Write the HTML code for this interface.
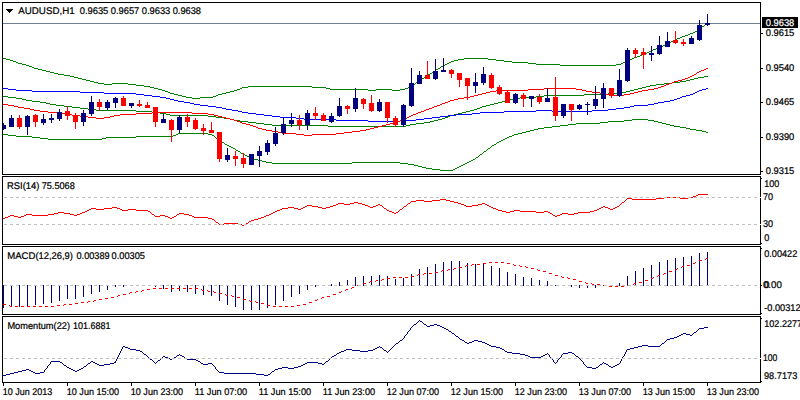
<!DOCTYPE html>
<html><head><meta charset="utf-8"><title>AUDUSD,H1</title>
<style>html,body{margin:0;padding:0;background:#fff;}body{width:800px;height:400px;overflow:hidden;}svg{display:block;}text{font-family:"Liberation Sans",sans-serif;font-size:9.7px;text-rendering:geometricPrecision;fill:#000;stroke:#000;stroke-width:0.22px;}</style></head><body>
<svg width="800" height="400" viewBox="0 0 800 400">
<rect x="0" y="0" width="800" height="400" fill="#ffffff"/>
<g fill="none" stroke-width="1" shape-rendering="crispEdges">
<line x1="3" y1="23.5" x2="760" y2="23.5" stroke="#708090"/>
<path d="M707 22h1v1h-1zM706 23h1v1h-1zM705 24h1v1h-1zM704 25h1v1h-1zM702 26h2v1h-2zM701 27h1v1h-1zM700 28h1v1h-1zM699 29h1v1h-1zM697 30h2v1h-2zM695 31h2v1h-2zM693 32h2v1h-2zM690 33h3v1h-3zM688 34h2v1h-2zM685 35h3v1h-3zM682 36h3v1h-3zM680 37h2v1h-2zM677 38h3v1h-3zM675 39h2v1h-2zM673 40h2v1h-2zM671 41h2v1h-2zM669 42h2v1h-2zM667 43h2v1h-2zM665 44h2v1h-2zM663 45h2v1h-2zM661 46h2v1h-2zM658 47h3v1h-3zM656 48h2v1h-2zM653 49h3v1h-3zM651 50h2v1h-2zM649 51h2v1h-2zM647 52h2v1h-2zM645 53h2v1h-2zM642 54h3v1h-3zM640 55h2v1h-2zM637 56h3v1h-3zM634 57h3v1h-3zM3 58h3v1h-3zM464 58h24v1h-24zM632 58h2v1h-2zM6 59h4v1h-4zM458 59h6v1h-6zM488 59h8v1h-8zM629 59h3v1h-3zM10 60h3v1h-3zM454 60h4v1h-4zM496 60h8v1h-8zM627 60h2v1h-2zM13 61h3v1h-3zM451 61h3v1h-3zM504 61h8v1h-8zM625 61h2v1h-2zM16 62h2v1h-2zM449 62h2v1h-2zM512 62h16v1h-16zM623 62h2v1h-2zM18 63h4v1h-4zM447 63h2v1h-2zM528 63h8v1h-8zM621 63h2v1h-2zM22 64h4v1h-4zM445 64h2v1h-2zM536 64h24v1h-24zM616 64h5v1h-5zM26 65h3v1h-3zM443 65h2v1h-2zM560 65h56v1h-56zM29 66h3v1h-3zM441 66h2v1h-2zM32 67h2v1h-2zM440 67h1v1h-1zM34 68h4v1h-4zM438 68h2v1h-2zM38 69h4v1h-4zM436 69h2v1h-2zM42 70h4v1h-4zM435 70h1v1h-1zM46 71h4v1h-4zM433 71h2v1h-2zM50 72h4v1h-4zM432 72h1v1h-1zM54 73h4v1h-4zM430 73h2v1h-2zM58 74h6v1h-6zM428 74h2v1h-2zM64 75h6v1h-6zM427 75h1v1h-1zM70 76h4v1h-4zM425 76h2v1h-2zM74 77h4v1h-4zM424 77h1v1h-1zM78 78h4v1h-4zM422 78h2v1h-2zM82 79h4v1h-4zM420 79h2v1h-2zM86 80h4v1h-4zM419 80h1v1h-1zM90 81h4v1h-4zM418 81h1v1h-1zM94 82h4v1h-4zM416 82h2v1h-2zM98 83h6v1h-6zM112 83h16v1h-16zM415 83h1v1h-1zM104 84h8v1h-8zM128 84h8v1h-8zM414 84h1v1h-1zM136 85h8v1h-8zM412 85h2v1h-2zM144 86h6v1h-6zM248 86h64v1h-64zM410 86h2v1h-2zM150 87h4v1h-4zM242 87h6v1h-6zM312 87h14v1h-14zM408 87h2v1h-2zM154 88h4v1h-4zM240 88h2v1h-2zM326 88h4v1h-4zM405 88h3v1h-3zM158 89h4v1h-4zM237 89h3v1h-3zM330 89h38v1h-38zM376 89h16v1h-16zM400 89h5v1h-5zM162 90h3v1h-3zM234 90h3v1h-3zM368 90h8v1h-8zM392 90h8v1h-8zM165 91h3v1h-3zM230 91h4v1h-4zM168 92h2v1h-2zM226 92h4v1h-4zM170 93h4v1h-4zM222 93h4v1h-4zM174 94h4v1h-4zM218 94h4v1h-4zM178 95h4v1h-4zM216 95h2v1h-2zM182 96h4v1h-4zM213 96h3v1h-3zM186 97h6v1h-6zM200 97h13v1h-13zM192 98h8v1h-8zM632 119h16v1h-16zM624 120h8v1h-8zM648 120h6v1h-6zM608 121h16v1h-16zM654 121h4v1h-4zM600 122h8v1h-8zM658 122h4v1h-4zM576 123h24v1h-24zM662 123h4v1h-4zM568 124h8v1h-8zM666 124h4v1h-4zM560 125h8v1h-8zM670 125h4v1h-4zM552 126h8v1h-8zM674 126h6v1h-6zM544 127h8v1h-8zM680 127h6v1h-6zM538 128h6v1h-6zM686 128h4v1h-4zM534 129h4v1h-4zM690 129h6v1h-6zM530 130h4v1h-4zM696 130h6v1h-6zM526 131h4v1h-4zM702 131h4v1h-4zM522 132h4v1h-4zM706 132h2v1h-2zM178 133h30v1h-30zM518 133h4v1h-4zM3 134h5v1h-5zM176 134h2v1h-2zM208 134h4v1h-4zM514 134h4v1h-4zM8 135h8v1h-8zM173 135h3v1h-3zM212 135h2v1h-2zM512 135h2v1h-2zM16 136h16v1h-16zM136 136h37v1h-37zM214 136h1v1h-1zM509 136h3v1h-3zM32 137h8v1h-8zM106 137h30v1h-30zM215 137h1v1h-1zM507 137h2v1h-2zM40 138h8v1h-8zM102 138h4v1h-4zM216 138h2v1h-2zM505 138h2v1h-2zM48 139h54v1h-54zM218 139h1v1h-1zM503 139h2v1h-2zM219 140h1v1h-1zM501 140h2v1h-2zM220 141h2v1h-2zM499 141h2v1h-2zM222 142h2v1h-2zM497 142h2v1h-2zM224 143h1v1h-1zM496 143h1v1h-1zM225 144h2v1h-2zM494 144h2v1h-2zM227 145h2v1h-2zM492 145h2v1h-2zM229 146h2v1h-2zM491 146h1v1h-1zM231 147h2v1h-2zM490 147h1v1h-1zM233 148h2v1h-2zM488 148h2v1h-2zM235 149h1v1h-1zM487 149h1v1h-1zM236 150h2v1h-2zM486 150h1v1h-1zM238 151h2v1h-2zM484 151h2v1h-2zM240 152h1v1h-1zM483 152h1v1h-1zM241 153h2v1h-2zM482 153h1v1h-1zM243 154h2v1h-2zM480 154h2v1h-2zM245 155h2v1h-2zM479 155h1v1h-1zM247 156h2v1h-2zM478 156h1v1h-1zM249 157h2v1h-2zM476 157h2v1h-2zM251 158h3v1h-3zM475 158h1v1h-1zM254 159h4v1h-4zM473 159h2v1h-2zM258 160h4v1h-4zM471 160h2v1h-2zM262 161h4v1h-4zM469 161h2v1h-2zM266 162h6v1h-6zM352 162h48v1h-48zM467 162h2v1h-2zM272 163h80v1h-80zM400 163h8v1h-8zM465 163h2v1h-2zM408 164h6v1h-6zM463 164h2v1h-2zM414 165h4v1h-4zM461 165h2v1h-2zM418 166h4v1h-4zM459 166h2v1h-2zM422 167h4v1h-4zM457 167h2v1h-2zM426 168h6v1h-6zM455 168h2v1h-2zM432 169h8v1h-8zM453 169h2v1h-2zM440 170h13v1h-13zM704 76h4v1h-4zM698 77h6v1h-6zM694 78h4v1h-4zM690 79h4v1h-4zM686 80h4v1h-4zM680 81h6v1h-6zM672 82h8v1h-8zM664 83h8v1h-8zM656 84h8v1h-8zM650 85h6v1h-6zM646 86h4v1h-4zM642 87h4v1h-4zM638 88h4v1h-4zM634 89h4v1h-4zM630 90h4v1h-4zM626 91h4v1h-4zM622 92h4v1h-4zM608 93h14v1h-14zM584 94h24v1h-24zM544 95h40v1h-40zM3 96h5v1h-5zM536 96h8v1h-8zM8 97h8v1h-8zM520 97h16v1h-16zM16 98h6v1h-6zM514 98h6v1h-6zM22 99h4v1h-4zM510 99h4v1h-4zM26 100h6v1h-6zM506 100h4v1h-4zM32 101h8v1h-8zM502 101h4v1h-4zM40 102h6v1h-6zM498 102h4v1h-4zM46 103h4v1h-4zM494 103h4v1h-4zM50 104h6v1h-6zM490 104h4v1h-4zM56 105h8v1h-8zM486 105h4v1h-4zM64 106h8v1h-8zM482 106h4v1h-4zM72 107h8v1h-8zM480 107h2v1h-2zM80 108h8v1h-8zM477 108h3v1h-3zM88 109h8v1h-8zM474 109h3v1h-3zM96 110h40v1h-40zM470 110h4v1h-4zM136 111h16v1h-16zM466 111h4v1h-4zM152 112h8v1h-8zM462 112h4v1h-4zM160 113h6v1h-6zM458 113h4v1h-4zM166 114h4v1h-4zM454 114h4v1h-4zM170 115h38v1h-38zM450 115h4v1h-4zM208 116h8v1h-8zM448 116h2v1h-2zM216 117h8v1h-8zM445 117h3v1h-3zM224 118h6v1h-6zM442 118h3v1h-3zM230 119h4v1h-4zM438 119h4v1h-4zM234 120h6v1h-6zM434 120h4v1h-4zM240 121h8v1h-8zM430 121h4v1h-4zM248 122h8v1h-8zM424 122h6v1h-6zM256 123h8v1h-8zM416 123h8v1h-8zM264 124h8v1h-8zM410 124h6v1h-6zM272 125h56v1h-56zM406 125h4v1h-4zM328 126h78v1h-78z" fill="#008000" stroke="none"/>
<path d="M3 88h5v1h-5zM706 88h2v1h-2zM8 89h8v1h-8zM702 89h4v1h-4zM16 90h16v1h-16zM699 90h3v1h-3zM32 91h48v1h-48zM697 91h2v1h-2zM80 92h24v1h-24zM695 92h2v1h-2zM104 93h32v1h-32zM693 93h2v1h-2zM136 94h8v1h-8zM690 94h3v1h-3zM144 95h8v1h-8zM686 95h4v1h-4zM152 96h8v1h-8zM682 96h4v1h-4zM160 97h6v1h-6zM680 97h2v1h-2zM166 98h4v1h-4zM677 98h3v1h-3zM170 99h4v1h-4zM674 99h3v1h-3zM174 100h4v1h-4zM670 100h4v1h-4zM178 101h6v1h-6zM664 101h6v1h-6zM184 102h6v1h-6zM658 102h6v1h-6zM190 103h4v1h-4zM654 103h4v1h-4zM194 104h6v1h-6zM648 104h6v1h-6zM200 105h8v1h-8zM634 105h14v1h-14zM208 106h8v1h-8zM630 106h4v1h-4zM216 107h6v1h-6zM624 107h6v1h-6zM222 108h4v1h-4zM616 108h8v1h-8zM226 109h6v1h-6zM608 109h8v1h-8zM232 110h6v1h-6zM536 110h16v1h-16zM592 110h16v1h-16zM238 111h4v1h-4zM504 111h32v1h-32zM552 111h40v1h-40zM242 112h6v1h-6zM480 112h24v1h-24zM248 113h8v1h-8zM472 113h8v1h-8zM256 114h8v1h-8zM456 114h16v1h-16zM264 115h8v1h-8zM448 115h8v1h-8zM272 116h8v1h-8zM440 116h8v1h-8zM280 117h16v1h-16zM432 117h8v1h-8zM296 118h8v1h-8zM424 118h8v1h-8zM304 119h32v1h-32zM416 119h8v1h-8zM336 120h32v1h-32zM400 120h16v1h-16zM368 121h32v1h-32z" fill="#0000ff" stroke="none"/>
<path d="M706 68h2v1h-2zM704 69h2v1h-2zM701 70h3v1h-3zM699 71h2v1h-2zM697 72h2v1h-2zM696 73h1v1h-1zM694 74h2v1h-2zM692 75h2v1h-2zM690 76h2v1h-2zM688 77h2v1h-2zM685 78h3v1h-3zM682 79h3v1h-3zM678 80h4v1h-4zM674 81h4v1h-4zM672 82h2v1h-2zM669 83h3v1h-3zM666 84h3v1h-3zM664 85h2v1h-2zM661 86h3v1h-3zM658 87h3v1h-3zM544 88h32v1h-32zM654 88h4v1h-4zM528 89h16v1h-16zM576 89h6v1h-6zM648 89h6v1h-6zM496 90h32v1h-32zM582 90h4v1h-4zM642 90h6v1h-6zM490 91h6v1h-6zM586 91h6v1h-6zM638 91h4v1h-4zM486 92h4v1h-4zM592 92h8v1h-8zM634 92h4v1h-4zM482 93h4v1h-4zM600 93h6v1h-6zM630 93h4v1h-4zM478 94h4v1h-4zM606 94h4v1h-4zM624 94h6v1h-6zM474 95h4v1h-4zM610 95h14v1h-14zM470 96h4v1h-4zM464 97h6v1h-6zM458 98h6v1h-6zM454 99h4v1h-4zM450 100h4v1h-4zM448 101h2v1h-2zM445 102h3v1h-3zM442 103h3v1h-3zM3 104h5v1h-5zM440 104h2v1h-2zM8 105h6v1h-6zM437 105h3v1h-3zM14 106h4v1h-4zM434 106h3v1h-3zM18 107h6v1h-6zM432 107h2v1h-2zM24 108h6v1h-6zM429 108h3v1h-3zM30 109h4v1h-4zM426 109h3v1h-3zM34 110h6v1h-6zM424 110h2v1h-2zM40 111h8v1h-8zM421 111h3v1h-3zM48 112h14v1h-14zM152 112h40v1h-40zM418 112h3v1h-3zM62 113h4v1h-4zM136 113h16v1h-16zM192 113h16v1h-16zM416 113h2v1h-2zM66 114h6v1h-6zM120 114h16v1h-16zM208 114h6v1h-6zM413 114h3v1h-3zM72 115h8v1h-8zM114 115h6v1h-6zM214 115h4v1h-4zM411 115h2v1h-2zM80 116h8v1h-8zM110 116h4v1h-4zM218 116h4v1h-4zM409 116h2v1h-2zM88 117h8v1h-8zM104 117h6v1h-6zM222 117h4v1h-4zM407 117h2v1h-2zM96 118h8v1h-8zM226 118h4v1h-4zM405 118h2v1h-2zM230 119h4v1h-4zM402 119h3v1h-3zM234 120h3v1h-3zM400 120h2v1h-2zM237 121h3v1h-3zM397 121h3v1h-3zM240 122h2v1h-2zM394 122h3v1h-3zM242 123h4v1h-4zM390 123h4v1h-4zM246 124h4v1h-4zM386 124h4v1h-4zM250 125h3v1h-3zM382 125h4v1h-4zM253 126h3v1h-3zM378 126h4v1h-4zM256 127h2v1h-2zM374 127h4v1h-4zM258 128h4v1h-4zM370 128h4v1h-4zM262 129h4v1h-4zM366 129h4v1h-4zM266 130h6v1h-6zM360 130h6v1h-6zM272 131h6v1h-6zM352 131h8v1h-8zM278 132h4v1h-4zM344 132h8v1h-8zM282 133h14v1h-14zM336 133h8v1h-8zM296 134h8v1h-8zM312 134h24v1h-24zM304 135h8v1h-8z" fill="#ff0000" stroke="none"/>
</g>
<g shape-rendering="crispEdges">
<rect x="3" y="123" width="1" height="7" fill="#000080"/>
<rect x="1" y="125" width="5" height="4" fill="#000080"/>
<rect x="11" y="115" width="1" height="12" fill="#000080"/>
<rect x="9" y="118" width="5" height="9" fill="#000080"/>
<rect x="19" y="115" width="1" height="14" fill="#ff0000"/>
<rect x="17" y="118" width="5" height="9" fill="#ff0000"/>
<rect x="27" y="115" width="1" height="20" fill="#000080"/>
<rect x="25" y="116" width="5" height="11" fill="#000080"/>
<rect x="35" y="114" width="1" height="13" fill="#ff0000"/>
<rect x="33" y="115" width="5" height="7" fill="#ff0000"/>
<rect x="43" y="114" width="1" height="11" fill="#000080"/>
<rect x="41" y="119" width="5" height="4" fill="#000080"/>
<rect x="51" y="114" width="1" height="9" fill="#000080"/>
<rect x="49" y="118" width="5" height="2" fill="#000080"/>
<rect x="59" y="109" width="1" height="12" fill="#000080"/>
<rect x="57" y="112" width="5" height="7" fill="#000080"/>
<rect x="67" y="106" width="1" height="14" fill="#ff0000"/>
<rect x="65" y="111" width="5" height="5" fill="#ff0000"/>
<rect x="75" y="113" width="1" height="16" fill="#ff0000"/>
<rect x="73" y="115" width="5" height="7" fill="#ff0000"/>
<rect x="83" y="110" width="1" height="16" fill="#000080"/>
<rect x="81" y="113" width="5" height="9" fill="#000080"/>
<rect x="91" y="96" width="1" height="20" fill="#000080"/>
<rect x="89" y="102" width="5" height="12" fill="#000080"/>
<rect x="99" y="99" width="1" height="12" fill="#ff0000"/>
<rect x="97" y="102" width="5" height="5" fill="#ff0000"/>
<rect x="107" y="100" width="1" height="10" fill="#000080"/>
<rect x="105" y="102" width="5" height="6" fill="#000080"/>
<rect x="115" y="97" width="1" height="11" fill="#000080"/>
<rect x="113" y="98" width="5" height="5" fill="#000080"/>
<rect x="123" y="96" width="1" height="10" fill="#ff0000"/>
<rect x="121" y="98" width="5" height="8" fill="#ff0000"/>
<rect x="131" y="103" width="1" height="5" fill="#000080"/>
<rect x="129" y="103" width="5" height="3" fill="#000080"/>
<rect x="139" y="100" width="1" height="7" fill="#ff0000"/>
<rect x="137" y="104" width="5" height="2" fill="#ff0000"/>
<rect x="147" y="102" width="1" height="6" fill="#ff0000"/>
<rect x="145" y="105" width="5" height="3" fill="#ff0000"/>
<rect x="155" y="107" width="1" height="20" fill="#ff0000"/>
<rect x="153" y="107" width="5" height="15" fill="#ff0000"/>
<rect x="163" y="114" width="1" height="9" fill="#000080"/>
<rect x="161" y="119" width="5" height="4" fill="#000080"/>
<rect x="171" y="119" width="1" height="23" fill="#ff0000"/>
<rect x="169" y="120" width="5" height="10" fill="#ff0000"/>
<rect x="179" y="115" width="1" height="18" fill="#000080"/>
<rect x="177" y="117" width="5" height="13" fill="#000080"/>
<rect x="187" y="114" width="1" height="13" fill="#ff0000"/>
<rect x="185" y="117" width="5" height="5" fill="#ff0000"/>
<rect x="195" y="118" width="1" height="12" fill="#ff0000"/>
<rect x="193" y="120" width="5" height="9" fill="#ff0000"/>
<rect x="203" y="124" width="1" height="11" fill="#ff0000"/>
<rect x="201" y="128" width="5" height="3" fill="#ff0000"/>
<rect x="211" y="122" width="1" height="11" fill="#ff0000"/>
<rect x="209" y="130" width="5" height="3" fill="#ff0000"/>
<rect x="219" y="132" width="1" height="30" fill="#ff0000"/>
<rect x="217" y="132" width="5" height="27" fill="#ff0000"/>
<rect x="227" y="148" width="1" height="14" fill="#000080"/>
<rect x="225" y="155" width="5" height="5" fill="#000080"/>
<rect x="235" y="151" width="1" height="15" fill="#ff0000"/>
<rect x="233" y="156" width="5" height="3" fill="#ff0000"/>
<rect x="243" y="153" width="1" height="15" fill="#ff0000"/>
<rect x="241" y="158" width="5" height="6" fill="#ff0000"/>
<rect x="251" y="154" width="1" height="11" fill="#000080"/>
<rect x="249" y="154" width="5" height="11" fill="#000080"/>
<rect x="259" y="146" width="1" height="21" fill="#000080"/>
<rect x="257" y="151" width="5" height="5" fill="#000080"/>
<rect x="267" y="140" width="1" height="15" fill="#000080"/>
<rect x="265" y="143" width="5" height="9" fill="#000080"/>
<rect x="275" y="127" width="1" height="19" fill="#000080"/>
<rect x="273" y="133" width="5" height="11" fill="#000080"/>
<rect x="283" y="117" width="1" height="18" fill="#000080"/>
<rect x="281" y="124" width="5" height="9" fill="#000080"/>
<rect x="291" y="113" width="1" height="14" fill="#000080"/>
<rect x="289" y="120" width="5" height="4" fill="#000080"/>
<rect x="299" y="115" width="1" height="15" fill="#ff0000"/>
<rect x="297" y="120" width="5" height="5" fill="#ff0000"/>
<rect x="307" y="110" width="1" height="20" fill="#000080"/>
<rect x="305" y="113" width="5" height="12" fill="#000080"/>
<rect x="315" y="107" width="1" height="13" fill="#ff0000"/>
<rect x="313" y="113" width="5" height="3" fill="#ff0000"/>
<rect x="323" y="113" width="1" height="8" fill="#ff0000"/>
<rect x="321" y="115" width="5" height="6" fill="#ff0000"/>
<rect x="331" y="113" width="1" height="10" fill="#000080"/>
<rect x="329" y="116" width="5" height="6" fill="#000080"/>
<rect x="339" y="98" width="1" height="19" fill="#000080"/>
<rect x="337" y="106" width="5" height="10" fill="#000080"/>
<rect x="347" y="105" width="1" height="9" fill="#ff0000"/>
<rect x="345" y="106" width="5" height="3" fill="#ff0000"/>
<rect x="355" y="88" width="1" height="24" fill="#000080"/>
<rect x="353" y="98" width="5" height="11" fill="#000080"/>
<rect x="363" y="98" width="1" height="11" fill="#ff0000"/>
<rect x="361" y="99" width="5" height="5" fill="#ff0000"/>
<rect x="371" y="95" width="1" height="17" fill="#ff0000"/>
<rect x="369" y="103" width="5" height="8" fill="#ff0000"/>
<rect x="379" y="99" width="1" height="13" fill="#000080"/>
<rect x="377" y="102" width="5" height="9" fill="#000080"/>
<rect x="387" y="102" width="1" height="21" fill="#ff0000"/>
<rect x="385" y="102" width="5" height="16" fill="#ff0000"/>
<rect x="395" y="116" width="1" height="11" fill="#ff0000"/>
<rect x="393" y="118" width="5" height="7" fill="#ff0000"/>
<rect x="403" y="104" width="1" height="23" fill="#000080"/>
<rect x="401" y="105" width="5" height="20" fill="#000080"/>
<rect x="411" y="68" width="1" height="39" fill="#000080"/>
<rect x="409" y="83" width="5" height="23" fill="#000080"/>
<rect x="419" y="71" width="1" height="13" fill="#000080"/>
<rect x="417" y="75" width="5" height="9" fill="#000080"/>
<rect x="427" y="61" width="1" height="18" fill="#ff0000"/>
<rect x="425" y="75" width="5" height="4" fill="#ff0000"/>
<rect x="435" y="59" width="1" height="21" fill="#000080"/>
<rect x="433" y="71" width="5" height="8" fill="#000080"/>
<rect x="443" y="58" width="1" height="14" fill="#000080"/>
<rect x="441" y="70" width="5" height="2" fill="#000080"/>
<rect x="451" y="69" width="1" height="9" fill="#ff0000"/>
<rect x="449" y="70" width="5" height="4" fill="#ff0000"/>
<rect x="459" y="73" width="1" height="14" fill="#ff0000"/>
<rect x="457" y="73" width="5" height="7" fill="#ff0000"/>
<rect x="467" y="78" width="1" height="22" fill="#ff0000"/>
<rect x="465" y="78" width="5" height="8" fill="#ff0000"/>
<rect x="475" y="73" width="1" height="20" fill="#000080"/>
<rect x="473" y="82" width="5" height="4" fill="#000080"/>
<rect x="483" y="67" width="1" height="18" fill="#000080"/>
<rect x="481" y="74" width="5" height="9" fill="#000080"/>
<rect x="491" y="73" width="1" height="16" fill="#ff0000"/>
<rect x="489" y="75" width="5" height="13" fill="#ff0000"/>
<rect x="499" y="85" width="1" height="10" fill="#ff0000"/>
<rect x="497" y="87" width="5" height="7" fill="#ff0000"/>
<rect x="507" y="90" width="1" height="13" fill="#ff0000"/>
<rect x="505" y="92" width="5" height="11" fill="#ff0000"/>
<rect x="515" y="93" width="1" height="11" fill="#000080"/>
<rect x="513" y="94" width="5" height="9" fill="#000080"/>
<rect x="523" y="93" width="1" height="14" fill="#ff0000"/>
<rect x="521" y="95" width="5" height="4" fill="#ff0000"/>
<rect x="531" y="96" width="1" height="11" fill="#000080"/>
<rect x="529" y="96" width="5" height="3" fill="#000080"/>
<rect x="539" y="94" width="1" height="10" fill="#ff0000"/>
<rect x="537" y="97" width="5" height="5" fill="#ff0000"/>
<rect x="547" y="88" width="1" height="14" fill="#000080"/>
<rect x="545" y="98" width="5" height="4" fill="#000080"/>
<rect x="555" y="77" width="1" height="44" fill="#ff0000"/>
<rect x="553" y="97" width="5" height="19" fill="#ff0000"/>
<rect x="563" y="104" width="1" height="14" fill="#000080"/>
<rect x="561" y="104" width="5" height="12" fill="#000080"/>
<rect x="571" y="104" width="1" height="17" fill="#ff0000"/>
<rect x="569" y="104" width="5" height="6" fill="#ff0000"/>
<rect x="579" y="104" width="1" height="6" fill="#000080"/>
<rect x="577" y="105" width="5" height="4" fill="#000080"/>
<rect x="587" y="102" width="1" height="13" fill="#000080"/>
<rect x="585" y="104" width="5" height="1" fill="#000080"/>
<rect x="595" y="86" width="1" height="23" fill="#000080"/>
<rect x="593" y="99" width="5" height="7" fill="#000080"/>
<rect x="603" y="83" width="1" height="25" fill="#000080"/>
<rect x="601" y="88" width="5" height="11" fill="#000080"/>
<rect x="611" y="88" width="1" height="10" fill="#ff0000"/>
<rect x="609" y="88" width="5" height="8" fill="#ff0000"/>
<rect x="619" y="69" width="1" height="28" fill="#000080"/>
<rect x="617" y="80" width="5" height="16" fill="#000080"/>
<rect x="627" y="48" width="1" height="34" fill="#000080"/>
<rect x="625" y="50" width="5" height="31" fill="#000080"/>
<rect x="635" y="48" width="1" height="10" fill="#ff0000"/>
<rect x="633" y="50" width="5" height="4" fill="#ff0000"/>
<rect x="643" y="48" width="1" height="21" fill="#ff0000"/>
<rect x="641" y="52" width="5" height="3" fill="#ff0000"/>
<rect x="651" y="46" width="1" height="15" fill="#000080"/>
<rect x="649" y="53" width="5" height="2" fill="#000080"/>
<rect x="659" y="36" width="1" height="19" fill="#000080"/>
<rect x="657" y="45" width="5" height="9" fill="#000080"/>
<rect x="667" y="32" width="1" height="15" fill="#000080"/>
<rect x="665" y="41" width="5" height="6" fill="#000080"/>
<rect x="675" y="31" width="1" height="13" fill="#ff0000"/>
<rect x="673" y="40" width="5" height="3" fill="#ff0000"/>
<rect x="683" y="39" width="1" height="7" fill="#ff0000"/>
<rect x="681" y="42" width="5" height="2" fill="#ff0000"/>
<rect x="691" y="36" width="1" height="8" fill="#000080"/>
<rect x="689" y="38" width="5" height="6" fill="#000080"/>
<rect x="699" y="20" width="1" height="21" fill="#000080"/>
<rect x="697" y="25" width="5" height="15" fill="#000080"/>
<rect x="707" y="14" width="1" height="12" fill="#000080"/>
<rect x="705" y="23" width="5" height="2" fill="#000080"/>
</g>
<g fill="none" stroke-width="1" shape-rendering="crispEdges">
<path d="M698 194h10v1h-10zM696 195h2v1h-2zM693 196h3v1h-3zM664 197h16v1h-16zM688 197h5v1h-5zM627 198h5v1h-5zM656 198h8v1h-8zM680 198h8v1h-8zM440 199h6v1h-6zM626 199h1v1h-1zM632 199h24v1h-24zM416 200h8v1h-8zM432 200h8v1h-8zM446 200h4v1h-4zM625 200h1v1h-1zM411 201h5v1h-5zM424 201h8v1h-8zM450 201h4v1h-4zM624 201h1v1h-1zM354 202h4v1h-4zM410 202h1v1h-1zM454 202h4v1h-4zM622 202h2v1h-2zM338 203h6v1h-6zM350 203h4v1h-4zM358 203h4v1h-4zM408 203h2v1h-2zM458 203h3v1h-3zM482 203h3v1h-3zM621 203h1v1h-1zM336 204h2v1h-2zM344 204h6v1h-6zM362 204h3v1h-3zM378 204h2v1h-2zM407 204h1v1h-1zM461 204h3v1h-3zM478 204h4v1h-4zM485 204h2v1h-2zM620 204h1v1h-1zM307 205h5v1h-5zM333 205h3v1h-3zM365 205h3v1h-3zM376 205h2v1h-2zM380 205h2v1h-2zM406 205h1v1h-1zM464 205h2v1h-2zM472 205h6v1h-6zM487 205h2v1h-2zM619 205h1v1h-1zM305 206h2v1h-2zM312 206h6v1h-6zM330 206h3v1h-3zM368 206h2v1h-2zM373 206h3v1h-3zM382 206h1v1h-1zM404 206h2v1h-2zM466 206h6v1h-6zM489 206h2v1h-2zM603 206h2v1h-2zM617 206h2v1h-2zM112 207h5v1h-5zM288 207h6v1h-6zM303 207h2v1h-2zM318 207h4v1h-4zM326 207h4v1h-4zM370 207h3v1h-3zM383 207h1v1h-1zM403 207h1v1h-1zM491 207h2v1h-2zM601 207h2v1h-2zM605 207h3v1h-3zM615 207h2v1h-2zM91 208h5v1h-5zM104 208h8v1h-8zM117 208h3v1h-3zM282 208h6v1h-6zM294 208h4v1h-4zM301 208h2v1h-2zM322 208h4v1h-4zM384 208h2v1h-2zM402 208h1v1h-1zM493 208h3v1h-3zM599 208h2v1h-2zM608 208h2v1h-2zM613 208h2v1h-2zM89 209h2v1h-2zM96 209h8v1h-8zM120 209h2v1h-2zM128 209h8v1h-8zM280 209h2v1h-2zM298 209h3v1h-3zM386 209h1v1h-1zM400 209h2v1h-2zM496 209h2v1h-2zM597 209h2v1h-2zM610 209h3v1h-3zM87 210h2v1h-2zM122 210h6v1h-6zM136 210h12v1h-12zM277 210h3v1h-3zM387 210h2v1h-2zM399 210h1v1h-1zM498 210h4v1h-4zM514 210h6v1h-6zM594 210h3v1h-3zM85 211h2v1h-2zM148 211h2v1h-2zM275 211h2v1h-2zM389 211h3v1h-3zM398 211h1v1h-1zM502 211h4v1h-4zM510 211h4v1h-4zM520 211h16v1h-16zM544 211h4v1h-4zM590 211h4v1h-4zM58 212h6v1h-6zM82 212h3v1h-3zM150 212h1v1h-1zM273 212h2v1h-2zM392 212h2v1h-2zM396 212h2v1h-2zM506 212h4v1h-4zM536 212h8v1h-8zM548 212h2v1h-2zM578 212h12v1h-12zM54 213h4v1h-4zM64 213h6v1h-6zM80 213h2v1h-2zM151 213h1v1h-1zM179 213h5v1h-5zM271 213h2v1h-2zM394 213h2v1h-2zM550 213h2v1h-2zM562 213h6v1h-6zM574 213h4v1h-4zM26 214h6v1h-6zM48 214h6v1h-6zM70 214h4v1h-4zM77 214h3v1h-3zM152 214h2v1h-2zM177 214h2v1h-2zM184 214h5v1h-5zM269 214h2v1h-2zM552 214h1v1h-1zM560 214h2v1h-2zM568 214h6v1h-6zM10 215h4v1h-4zM24 215h2v1h-2zM32 215h16v1h-16zM74 215h3v1h-3zM154 215h1v1h-1zM160 215h5v1h-5zM176 215h1v1h-1zM189 215h3v1h-3zM266 215h3v1h-3zM553 215h2v1h-2zM557 215h3v1h-3zM8 216h2v1h-2zM14 216h4v1h-4zM21 216h3v1h-3zM155 216h5v1h-5zM165 216h3v1h-3zM174 216h2v1h-2zM192 216h2v1h-2zM264 216h2v1h-2zM555 216h2v1h-2zM5 217h3v1h-3zM18 217h3v1h-3zM168 217h2v1h-2zM172 217h2v1h-2zM194 217h14v1h-14zM261 217h3v1h-3zM3 218h2v1h-2zM170 218h2v1h-2zM208 218h4v1h-4zM258 218h3v1h-3zM212 219h2v1h-2zM254 219h4v1h-4zM214 220h1v1h-1zM251 220h3v1h-3zM215 221h1v1h-1zM249 221h2v1h-2zM216 222h2v1h-2zM248 222h1v1h-1zM218 223h1v1h-1zM224 223h14v1h-14zM246 223h2v1h-2zM219 224h5v1h-5zM238 224h4v1h-4zM244 224h2v1h-2zM242 225h2v1h-2z" fill="#ff0000" stroke="none"/>
<rect x="3" y="285" width="1" height="23" fill="#000080" stroke="none"/>
<rect x="11" y="285" width="1" height="22" fill="#000080" stroke="none"/>
<rect x="19" y="285" width="1" height="22" fill="#000080" stroke="none"/>
<rect x="27" y="285" width="1" height="21" fill="#000080" stroke="none"/>
<rect x="35" y="285" width="1" height="20" fill="#000080" stroke="none"/>
<rect x="43" y="285" width="1" height="19" fill="#000080" stroke="none"/>
<rect x="51" y="285" width="1" height="18" fill="#000080" stroke="none"/>
<rect x="59" y="285" width="1" height="16" fill="#000080" stroke="none"/>
<rect x="67" y="285" width="1" height="14" fill="#000080" stroke="none"/>
<rect x="75" y="285" width="1" height="14" fill="#000080" stroke="none"/>
<rect x="83" y="285" width="1" height="12" fill="#000080" stroke="none"/>
<rect x="91" y="285" width="1" height="9" fill="#000080" stroke="none"/>
<rect x="99" y="285" width="1" height="7" fill="#000080" stroke="none"/>
<rect x="107" y="285" width="1" height="5" fill="#000080" stroke="none"/>
<rect x="115" y="285" width="1" height="2" fill="#000080" stroke="none"/>
<rect x="123" y="285" width="1" height="2" fill="#000080" stroke="none"/>
<rect x="155" y="285" width="1" height="2" fill="#000080" stroke="none"/>
<rect x="163" y="285" width="1" height="4" fill="#000080" stroke="none"/>
<rect x="171" y="285" width="1" height="7" fill="#000080" stroke="none"/>
<rect x="179" y="285" width="1" height="6" fill="#000080" stroke="none"/>
<rect x="187" y="285" width="1" height="7" fill="#000080" stroke="none"/>
<rect x="195" y="285" width="1" height="9" fill="#000080" stroke="none"/>
<rect x="203" y="285" width="1" height="10" fill="#000080" stroke="none"/>
<rect x="211" y="285" width="1" height="11" fill="#000080" stroke="none"/>
<rect x="219" y="285" width="1" height="16" fill="#000080" stroke="none"/>
<rect x="227" y="285" width="1" height="20" fill="#000080" stroke="none"/>
<rect x="235" y="285" width="1" height="22" fill="#000080" stroke="none"/>
<rect x="243" y="285" width="1" height="25" fill="#000080" stroke="none"/>
<rect x="251" y="285" width="1" height="25" fill="#000080" stroke="none"/>
<rect x="259" y="285" width="1" height="25" fill="#000080" stroke="none"/>
<rect x="267" y="285" width="1" height="23" fill="#000080" stroke="none"/>
<rect x="275" y="285" width="1" height="20" fill="#000080" stroke="none"/>
<rect x="283" y="285" width="1" height="16" fill="#000080" stroke="none"/>
<rect x="291" y="285" width="1" height="12" fill="#000080" stroke="none"/>
<rect x="299" y="285" width="1" height="9" fill="#000080" stroke="none"/>
<rect x="307" y="285" width="1" height="5" fill="#000080" stroke="none"/>
<rect x="315" y="285" width="1" height="2" fill="#000080" stroke="none"/>
<rect x="331" y="284" width="1" height="2" fill="#000080" stroke="none"/>
<rect x="339" y="282" width="1" height="4" fill="#000080" stroke="none"/>
<rect x="347" y="280" width="1" height="6" fill="#000080" stroke="none"/>
<rect x="355" y="277" width="1" height="9" fill="#000080" stroke="none"/>
<rect x="363" y="276" width="1" height="10" fill="#000080" stroke="none"/>
<rect x="371" y="276" width="1" height="10" fill="#000080" stroke="none"/>
<rect x="379" y="275" width="1" height="11" fill="#000080" stroke="none"/>
<rect x="387" y="276" width="1" height="10" fill="#000080" stroke="none"/>
<rect x="395" y="279" width="1" height="7" fill="#000080" stroke="none"/>
<rect x="403" y="278" width="1" height="8" fill="#000080" stroke="none"/>
<rect x="411" y="274" width="1" height="12" fill="#000080" stroke="none"/>
<rect x="419" y="269" width="1" height="17" fill="#000080" stroke="none"/>
<rect x="427" y="267" width="1" height="19" fill="#000080" stroke="none"/>
<rect x="435" y="264" width="1" height="22" fill="#000080" stroke="none"/>
<rect x="443" y="262" width="1" height="24" fill="#000080" stroke="none"/>
<rect x="451" y="261" width="1" height="25" fill="#000080" stroke="none"/>
<rect x="459" y="261" width="1" height="25" fill="#000080" stroke="none"/>
<rect x="467" y="263" width="1" height="23" fill="#000080" stroke="none"/>
<rect x="475" y="264" width="1" height="22" fill="#000080" stroke="none"/>
<rect x="483" y="264" width="1" height="22" fill="#000080" stroke="none"/>
<rect x="491" y="266" width="1" height="20" fill="#000080" stroke="none"/>
<rect x="499" y="268" width="1" height="18" fill="#000080" stroke="none"/>
<rect x="507" y="272" width="1" height="14" fill="#000080" stroke="none"/>
<rect x="515" y="274" width="1" height="12" fill="#000080" stroke="none"/>
<rect x="523" y="277" width="1" height="9" fill="#000080" stroke="none"/>
<rect x="531" y="278" width="1" height="8" fill="#000080" stroke="none"/>
<rect x="539" y="280" width="1" height="6" fill="#000080" stroke="none"/>
<rect x="547" y="281" width="1" height="5" fill="#000080" stroke="none"/>
<rect x="555" y="285" width="1" height="1" fill="#000080" stroke="none"/>
<rect x="571" y="285" width="1" height="2" fill="#000080" stroke="none"/>
<rect x="579" y="285" width="1" height="3" fill="#000080" stroke="none"/>
<rect x="587" y="285" width="1" height="3" fill="#000080" stroke="none"/>
<rect x="595" y="285" width="1" height="3" fill="#000080" stroke="none"/>
<rect x="619" y="283" width="1" height="3" fill="#000080" stroke="none"/>
<rect x="627" y="276" width="1" height="10" fill="#000080" stroke="none"/>
<rect x="635" y="271" width="1" height="15" fill="#000080" stroke="none"/>
<rect x="643" y="268" width="1" height="18" fill="#000080" stroke="none"/>
<rect x="651" y="265" width="1" height="21" fill="#000080" stroke="none"/>
<rect x="659" y="262" width="1" height="24" fill="#000080" stroke="none"/>
<rect x="667" y="260" width="1" height="26" fill="#000080" stroke="none"/>
<rect x="675" y="258" width="1" height="28" fill="#000080" stroke="none"/>
<rect x="683" y="257" width="1" height="29" fill="#000080" stroke="none"/>
<rect x="691" y="256" width="1" height="30" fill="#000080" stroke="none"/>
<rect x="699" y="253" width="1" height="33" fill="#000080" stroke="none"/>
<rect x="707" y="252" width="1" height="34" fill="#000080" stroke="none"/>
<path d="M706 258h2v1h-2zM705 259h1v1h-1zM699 260h3v1h-3zM489 262h3v1h-3zM495 262h3v1h-3zM501 262h3v1h-3zM695 262h1v1h-1zM483 263h3v1h-3zM507 263h3v1h-3zM693 263h2v1h-2zM472 264h2v1h-2zM477 264h3v1h-3zM513 264h1v1h-1zM466 265h2v1h-2zM471 265h1v1h-1zM514 265h2v1h-2zM519 265h1v1h-1zM687 265h3v1h-3zM465 266h1v1h-1zM520 266h2v1h-2zM525 266h1v1h-1zM682 266h2v1h-2zM459 267h3v1h-3zM526 267h2v1h-2zM681 267h1v1h-1zM454 268h2v1h-2zM531 268h3v1h-3zM677 268h1v1h-1zM448 269h2v1h-2zM453 269h1v1h-1zM537 269h1v1h-1zM675 269h2v1h-2zM442 270h2v1h-2zM447 270h1v1h-1zM538 270h2v1h-2zM441 271h1v1h-1zM543 271h3v1h-3zM669 271h3v1h-3zM435 272h3v1h-3zM424 273h2v1h-2zM429 273h3v1h-3zM549 273h3v1h-3zM664 273h2v1h-2zM418 274h2v1h-2zM423 274h1v1h-1zM663 274h1v1h-1zM417 275h1v1h-1zM555 275h3v1h-3zM658 275h2v1h-2zM411 276h3v1h-3zM561 276h1v1h-1zM657 276h1v1h-1zM393 277h3v1h-3zM399 277h3v1h-3zM405 277h3v1h-3zM562 277h2v1h-2zM567 277h1v1h-1zM653 277h1v1h-1zM387 278h3v1h-3zM568 278h2v1h-2zM651 278h2v1h-2zM382 279h2v1h-2zM573 279h3v1h-3zM376 280h2v1h-2zM381 280h1v1h-1zM645 280h3v1h-3zM370 281h2v1h-2zM375 281h1v1h-1zM579 281h3v1h-3zM369 282h1v1h-1zM585 282h1v1h-1zM639 282h3v1h-3zM363 283h3v1h-3zM586 283h2v1h-2zM591 283h1v1h-1zM634 283h2v1h-2zM592 284h2v1h-2zM597 284h3v1h-3zM633 284h1v1h-1zM357 285h3v1h-3zM603 285h3v1h-3zM627 285h3v1h-3zM609 286h3v1h-3zM615 286h3v1h-3zM621 286h3v1h-3zM352 287h2v1h-2zM153 288h3v1h-3zM159 288h3v1h-3zM165 288h3v1h-3zM171 288h3v1h-3zM177 288h3v1h-3zM183 288h3v1h-3zM189 288h3v1h-3zM195 288h3v1h-3zM351 288h1v1h-1zM147 289h3v1h-3zM201 289h1v1h-1zM346 289h2v1h-2zM142 290h2v1h-2zM202 290h2v1h-2zM207 290h1v1h-1zM345 290h1v1h-1zM136 291h2v1h-2zM141 291h1v1h-1zM208 291h2v1h-2zM213 291h1v1h-1zM341 291h1v1h-1zM130 292h2v1h-2zM135 292h1v1h-1zM214 292h2v1h-2zM339 292h2v1h-2zM129 293h1v1h-1zM219 293h3v1h-3zM123 294h3v1h-3zM225 294h1v1h-1zM333 294h3v1h-3zM118 295h2v1h-2zM226 295h2v1h-2zM231 295h1v1h-1zM117 296h1v1h-1zM232 296h2v1h-2zM327 296h3v1h-3zM111 297h3v1h-3zM237 297h3v1h-3zM322 297h2v1h-2zM105 298h3v1h-3zM321 298h1v1h-1zM99 299h3v1h-3zM243 299h3v1h-3zM317 299h1v1h-1zM94 300h2v1h-2zM249 300h1v1h-1zM315 300h2v1h-2zM88 301h2v1h-2zM93 301h1v1h-1zM250 301h2v1h-2zM255 301h1v1h-1zM81 302h3v1h-3zM87 302h1v1h-1zM256 302h2v1h-2zM309 302h3v1h-3zM75 303h3v1h-3zM261 303h3v1h-3zM3 304h3v1h-3zM64 304h2v1h-2zM69 304h3v1h-3zM303 304h3v1h-3zM9 305h1v1h-1zM57 305h3v1h-3zM63 305h1v1h-1zM267 305h3v1h-3zM297 305h3v1h-3zM10 306h2v1h-2zM15 306h3v1h-3zM21 306h3v1h-3zM27 306h3v1h-3zM33 306h3v1h-3zM39 306h3v1h-3zM45 306h3v1h-3zM51 306h3v1h-3zM273 306h3v1h-3zM279 306h3v1h-3zM285 306h3v1h-3zM291 306h3v1h-3z" fill="#ff0000" stroke="none"/>
<path d="M419 320h1v1h-1zM418 321h1v1h-1zM420 321h2v1h-2zM417 322h1v1h-1zM422 322h1v1h-1zM416 323h1v1h-1zM423 323h1v1h-1zM414 324h2v1h-2zM424 324h2v1h-2zM434 324h3v1h-3zM413 325h1v1h-1zM426 325h1v1h-1zM430 325h4v1h-4zM437 325h3v1h-3zM412 326h1v1h-1zM427 326h3v1h-3zM440 326h2v1h-2zM411 327h1v1h-1zM442 327h2v1h-2zM704 327h4v1h-4zM410 328h1v2h-1zM444 328h2v1h-2zM699 328h5v1h-5zM446 329h2v1h-2zM698 329h1v1h-1zM409 330h1v1h-1zM448 330h1v1h-1zM697 330h1v1h-1zM408 331h1v1h-1zM449 331h2v1h-2zM696 331h1v1h-1zM407 332h1v2h-1zM451 332h1v1h-1zM694 332h2v1h-2zM452 333h2v1h-2zM683 333h3v1h-3zM693 333h1v1h-1zM406 334h1v1h-1zM454 334h1v1h-1zM681 334h2v1h-2zM686 334h4v1h-4zM692 334h1v1h-1zM405 335h1v1h-1zM455 335h1v1h-1zM679 335h2v1h-2zM690 335h2v1h-2zM404 336h1v2h-1zM456 336h2v1h-2zM677 336h2v1h-2zM458 337h1v1h-1zM674 337h3v1h-3zM403 338h1v1h-1zM459 338h1v1h-1zM670 338h4v1h-4zM402 339h1v1h-1zM460 339h2v1h-2zM667 339h3v1h-3zM400 340h2v1h-2zM462 340h2v1h-2zM474 340h4v1h-4zM666 340h1v1h-1zM399 341h1v1h-1zM464 341h1v1h-1zM472 341h2v1h-2zM478 341h4v1h-4zM665 341h1v1h-1zM398 342h1v1h-1zM465 342h2v1h-2zM469 342h3v1h-3zM482 342h3v1h-3zM664 342h1v1h-1zM396 343h2v1h-2zM467 343h2v1h-2zM485 343h2v1h-2zM662 343h2v1h-2zM395 344h1v1h-1zM487 344h2v1h-2zM661 344h1v1h-1zM394 345h1v1h-1zM489 345h2v1h-2zM642 345h6v1h-6zM660 345h1v1h-1zM123 346h2v1h-2zM379 346h1v1h-1zM393 346h1v1h-1zM491 346h5v1h-5zM638 346h4v1h-4zM648 346h12v1h-12zM122 347h1v2h-1zM125 347h3v1h-3zM377 347h2v1h-2zM380 347h2v1h-2zM392 347h1v1h-1zM496 347h4v1h-4zM634 347h4v1h-4zM128 348h2v1h-2zM375 348h2v1h-2zM382 348h1v1h-1zM391 348h1v1h-1zM500 348h2v1h-2zM630 348h4v1h-4zM121 349h1v2h-1zM130 349h6v1h-6zM346 349h6v1h-6zM373 349h2v1h-2zM383 349h1v1h-1zM390 349h1v1h-1zM502 349h2v1h-2zM627 349h3v1h-3zM136 350h4v1h-4zM344 350h2v1h-2zM352 350h8v1h-8zM368 350h5v1h-5zM384 350h2v1h-2zM389 350h1v1h-1zM504 350h1v1h-1zM626 350h1v2h-1zM120 351h1v2h-1zM140 351h2v1h-2zM341 351h3v1h-3zM360 351h8v1h-8zM386 351h1v1h-1zM388 351h1v1h-1zM505 351h2v1h-2zM142 352h1v1h-1zM339 352h2v1h-2zM387 352h1v1h-1zM507 352h5v1h-5zM568 352h4v1h-4zM625 352h1v2h-1zM119 353h1v2h-1zM143 353h1v1h-1zM337 353h2v1h-2zM512 353h8v1h-8zM547 353h1v1h-1zM563 353h5v1h-5zM572 353h2v1h-2zM144 354h2v1h-2zM179 354h1v1h-1zM336 354h1v1h-1zM520 354h5v1h-5zM545 354h2v1h-2zM548 354h1v1h-1zM562 354h1v1h-1zM574 354h1v1h-1zM624 354h1v2h-1zM118 355h1v2h-1zM146 355h1v1h-1zM177 355h2v1h-2zM180 355h2v1h-2zM334 355h2v1h-2zM525 355h3v1h-3zM543 355h2v1h-2zM549 355h1v2h-1zM561 355h1v2h-1zM575 355h1v1h-1zM147 356h1v1h-1zM163 356h2v1h-2zM176 356h1v1h-1zM182 356h2v1h-2zM332 356h2v1h-2zM528 356h2v1h-2zM541 356h2v1h-2zM576 356h2v1h-2zM623 356h1v1h-1zM117 357h1v2h-1zM148 357h1v1h-1zM162 357h1v1h-1zM165 357h3v1h-3zM174 357h2v1h-2zM184 357h1v1h-1zM331 357h1v1h-1zM530 357h11v1h-11zM550 357h1v1h-1zM560 357h1v1h-1zM578 357h1v1h-1zM622 357h1v2h-1zM149 358h1v1h-1zM161 358h1v1h-1zM168 358h2v1h-2zM172 358h2v1h-2zM185 358h2v1h-2zM330 358h1v1h-1zM551 358h1v1h-1zM559 358h1v1h-1zM579 358h1v1h-1zM116 359h1v2h-1zM150 359h2v1h-2zM160 359h1v1h-1zM170 359h2v1h-2zM187 359h9v1h-9zM329 359h1v1h-1zM552 359h1v1h-1zM558 359h1v1h-1zM580 359h1v1h-1zM621 359h1v2h-1zM152 360h1v1h-1zM158 360h2v1h-2zM196 360h2v1h-2zM328 360h1v1h-1zM553 360h1v2h-1zM557 360h1v2h-1zM581 360h1v1h-1zM51 361h9v1h-9zM91 361h2v1h-2zM115 361h1v1h-1zM153 361h1v1h-1zM157 361h1v1h-1zM198 361h2v1h-2zM326 361h2v1h-2zM582 361h1v1h-1zM620 361h1v2h-1zM50 362h1v2h-1zM60 362h2v1h-2zM90 362h1v1h-1zM93 362h2v1h-2zM114 362h2v1h-2zM154 362h1v1h-1zM156 362h1v1h-1zM200 362h1v1h-1zM307 362h11v1h-11zM325 362h1v1h-1zM554 362h1v1h-1zM556 362h1v1h-1zM583 362h1v2h-1zM603 362h1v1h-1zM62 363h1v1h-1zM88 363h2v1h-2zM95 363h2v1h-2zM110 363h4v1h-4zM155 363h1v1h-1zM201 363h2v1h-2zM208 363h4v1h-4zM305 363h2v1h-2zM318 363h4v1h-4zM324 363h1v1h-1zM555 363h1v1h-1zM602 363h1v1h-1zM604 363h2v1h-2zM619 363h1v1h-1zM49 364h1v1h-1zM63 364h1v1h-1zM87 364h1v1h-1zM97 364h2v1h-2zM104 364h6v1h-6zM203 364h5v1h-5zM212 364h1v1h-1zM303 364h2v1h-2zM322 364h2v1h-2zM584 364h1v1h-1zM600 364h2v1h-2zM606 364h2v1h-2zM617 364h2v1h-2zM48 365h1v1h-1zM64 365h2v1h-2zM86 365h1v1h-1zM99 365h5v1h-5zM213 365h1v1h-1zM301 365h2v1h-2zM585 365h1v1h-1zM599 365h1v1h-1zM608 365h1v1h-1zM615 365h2v1h-2zM47 366h1v2h-1zM66 366h1v1h-1zM84 366h2v1h-2zM214 366h1v1h-1zM298 366h3v1h-3zM586 366h1v1h-1zM598 366h1v1h-1zM609 366h2v1h-2zM613 366h2v1h-2zM67 367h2v1h-2zM83 367h1v1h-1zM215 367h1v2h-1zM282 367h6v1h-6zM294 367h4v1h-4zM587 367h5v1h-5zM596 367h2v1h-2zM611 367h2v1h-2zM46 368h1v1h-1zM69 368h2v1h-2zM81 368h2v1h-2zM278 368h4v1h-4zM288 368h6v1h-6zM592 368h4v1h-4zM26 369h3v1h-3zM45 369h1v1h-1zM71 369h2v1h-2zM79 369h2v1h-2zM216 369h1v1h-1zM275 369h3v1h-3zM22 370h4v1h-4zM29 370h2v1h-2zM44 370h1v2h-1zM73 370h2v1h-2zM77 370h2v1h-2zM217 370h1v1h-1zM274 370h1v1h-1zM18 371h4v1h-4zM31 371h2v1h-2zM75 371h2v1h-2zM218 371h1v1h-1zM272 371h2v1h-2zM14 372h4v1h-4zM33 372h2v1h-2zM40 372h4v1h-4zM219 372h5v1h-5zM271 372h1v1h-1zM10 373h4v1h-4zM35 373h5v1h-5zM224 373h32v1h-32zM270 373h1v1h-1zM6 374h4v1h-4zM256 374h8v1h-8zM268 374h2v1h-2zM3 375h3v1h-3zM264 375h4v1h-4z" fill="#000080" stroke="none"/>
<line x1="4" y1="197.5" x2="760" y2="197.5" stroke="#c0c0c0" stroke-dasharray="3,3"/>
<line x1="4" y1="224.5" x2="760" y2="224.5" stroke="#c0c0c0" stroke-dasharray="3,3"/>
<line x1="4" y1="285.5" x2="760" y2="285.5" stroke="#c0c0c0" stroke-dasharray="3,3"/>
<line x1="4" y1="358.5" x2="760" y2="358.5" stroke="#c0c0c0" stroke-dasharray="3,3"/>
</g>
<g shape-rendering="crispEdges" fill="#000">
<rect x="0" y="0" width="2" height="400" fill="#fff"/>
<rect x="2" y="2" width="759" height="1"/>
<rect x="2" y="174" width="759" height="1"/>
<rect x="2" y="2" width="1" height="173"/>
<rect x="760" y="2" width="1" height="173"/>
<rect x="2" y="176" width="759" height="1"/>
<rect x="2" y="244" width="759" height="1"/>
<rect x="2" y="176" width="1" height="69"/>
<rect x="760" y="176" width="1" height="69"/>
<rect x="2" y="246" width="759" height="1"/>
<rect x="2" y="314" width="759" height="1"/>
<rect x="2" y="246" width="1" height="69"/>
<rect x="760" y="246" width="1" height="69"/>
<rect x="2" y="316" width="759" height="1"/>
<rect x="2" y="382" width="759" height="1"/>
<rect x="2" y="316" width="1" height="67"/>
<rect x="760" y="316" width="1" height="67"/>
<rect x="761" y="33" width="2" height="1"/>
<rect x="761" y="68" width="2" height="1"/>
<rect x="761" y="102" width="2" height="1"/>
<rect x="761" y="137" width="2" height="1"/>
<rect x="761" y="171" width="2" height="1"/>
<rect x="761" y="178" width="1" height="1"/>
<rect x="761" y="243" width="1" height="1"/>
<rect x="761" y="248" width="1" height="1"/>
<rect x="761" y="313" width="1" height="1"/>
<rect x="761" y="318" width="1" height="1"/>
<rect x="761" y="381" width="1" height="1"/>
<rect x="761" y="285" width="1" height="1"/>
<rect x="760" y="197" width="1" height="1" fill="#e8e8e8"/>
<rect x="760" y="224" width="1" height="1" fill="#e8e8e8"/>
<rect x="760" y="358" width="1" height="1" fill="#e8e8e8"/>
<rect x="3" y="383" width="1" height="3"/>
<rect x="67" y="383" width="1" height="3"/>
<rect x="131" y="383" width="1" height="3"/>
<rect x="195" y="383" width="1" height="3"/>
<rect x="259" y="383" width="1" height="3"/>
<rect x="323" y="383" width="1" height="3"/>
<rect x="387" y="383" width="1" height="3"/>
<rect x="451" y="383" width="1" height="3"/>
<rect x="515" y="383" width="1" height="3"/>
<rect x="579" y="383" width="1" height="3"/>
<rect x="643" y="383" width="1" height="3"/>
<rect x="707" y="383" width="1" height="3"/>
<rect x="762" y="17" width="36" height="11"/>
<rect x="6" y="9" width="7" height="1"/><rect x="7" y="10" width="5" height="1"/><rect x="8" y="11" width="3" height="1"/><rect x="9" y="12" width="1" height="1"/>
</g>
<text x="18.3" y="14.0" textLength="56.3" lengthAdjust="spacingAndGlyphs">AUDUSD,H1</text>
<text x="79.7" y="14.0" textLength="28.6" lengthAdjust="spacingAndGlyphs">0.9635</text>
<text x="110.7" y="14.0" textLength="28.6" lengthAdjust="spacingAndGlyphs">0.9657</text>
<text x="141.7" y="14.0" textLength="28.6" lengthAdjust="spacingAndGlyphs">0.9633</text>
<text x="172.7" y="14.0" textLength="28.3" lengthAdjust="spacingAndGlyphs">0.9638</text>
<text x="7.0" y="189.0" textLength="32.4" lengthAdjust="spacingAndGlyphs">RSI(14)</text>
<text x="41.7" y="189.0" textLength="33.1" lengthAdjust="spacingAndGlyphs">75.5068</text>
<text x="7.2" y="259.0" textLength="28.2" lengthAdjust="spacingAndGlyphs">MACD</text>
<text x="35.4" y="259.0" textLength="37.5" lengthAdjust="spacingAndGlyphs">(12,26,9)</text>
<text x="76.5" y="259.0" textLength="33.1" lengthAdjust="spacingAndGlyphs">0.00389</text>
<text x="111.6" y="259.0" textLength="33.4" lengthAdjust="spacingAndGlyphs">0.00305</text>
<text x="7.4" y="329.0" textLength="62.6" lengthAdjust="spacingAndGlyphs">Momentum(22)</text>
<text x="73.0" y="329.0" textLength="37.5" lengthAdjust="spacingAndGlyphs">101.6881</text>
<text x="765.7" y="26.0" textLength="28.6" lengthAdjust="spacingAndGlyphs" style="fill:#fff;stroke:#fff">0.9638</text>
<text x="765.7" y="36.0" textLength="28.6" lengthAdjust="spacingAndGlyphs">0.9615</text>
<text x="765.7" y="71.0" textLength="28.6" lengthAdjust="spacingAndGlyphs">0.9540</text>
<text x="765.7" y="105.0" textLength="28.6" lengthAdjust="spacingAndGlyphs">0.9465</text>
<text x="765.7" y="140.0" textLength="28.6" lengthAdjust="spacingAndGlyphs">0.9390</text>
<text x="765.7" y="174.0" textLength="28.6" lengthAdjust="spacingAndGlyphs">0.9315</text>
<text x="764.3" y="187.0" textLength="15.0" lengthAdjust="spacingAndGlyphs">100</text>
<text x="762.9" y="200.0" textLength="10.1" lengthAdjust="spacingAndGlyphs">70</text>
<text x="762.9" y="227.0" textLength="10.1" lengthAdjust="spacingAndGlyphs">30</text>
<text x="764.2" y="241.0" textLength="5.1" lengthAdjust="spacingAndGlyphs">0</text>
<text x="764.2" y="257.0" textLength="33.1" lengthAdjust="spacingAndGlyphs">0.00422</text>
<text x="762.9" y="288.0" textLength="18.9" lengthAdjust="spacingAndGlyphs">0.00</text>
<text x="763.9" y="288.0" textLength="5.5" lengthAdjust="spacingAndGlyphs">0</text>
<text x="764.2" y="311.0" textLength="36.4" lengthAdjust="spacingAndGlyphs">-0.00312</text>
<text x="764.3" y="327.0" textLength="37.7" lengthAdjust="spacingAndGlyphs">102.2277</text>
<text x="763.0" y="361.0" textLength="14.4" lengthAdjust="spacingAndGlyphs">100</text>
<text x="764.0" y="379.0" textLength="33.3" lengthAdjust="spacingAndGlyphs">98.7173</text>
<text x="2.8" y="395.0" textLength="49.5" lengthAdjust="spacingAndGlyphs">10 Jun 2013</text>
<text x="66.8" y="395.0" textLength="52.3" lengthAdjust="spacingAndGlyphs">10 Jun 15:00</text>
<text x="130.8" y="395.0" textLength="52.3" lengthAdjust="spacingAndGlyphs">10 Jun 23:00</text>
<text x="194.8" y="395.0" textLength="52.3" lengthAdjust="spacingAndGlyphs">11 Jun 07:00</text>
<text x="258.8" y="395.0" textLength="52.3" lengthAdjust="spacingAndGlyphs">11 Jun 15:00</text>
<text x="322.8" y="395.0" textLength="52.3" lengthAdjust="spacingAndGlyphs">11 Jun 23:00</text>
<text x="386.8" y="395.0" textLength="52.3" lengthAdjust="spacingAndGlyphs">12 Jun 07:00</text>
<text x="450.8" y="395.0" textLength="52.3" lengthAdjust="spacingAndGlyphs">12 Jun 15:00</text>
<text x="514.8" y="395.0" textLength="52.3" lengthAdjust="spacingAndGlyphs">12 Jun 23:00</text>
<text x="578.8" y="395.0" textLength="52.3" lengthAdjust="spacingAndGlyphs">13 Jun 07:00</text>
<text x="642.8" y="395.0" textLength="52.3" lengthAdjust="spacingAndGlyphs">13 Jun 15:00</text>
<text x="706.8" y="395.0" textLength="52.3" lengthAdjust="spacingAndGlyphs">13 Jun 23:00</text>
</svg></body></html>
